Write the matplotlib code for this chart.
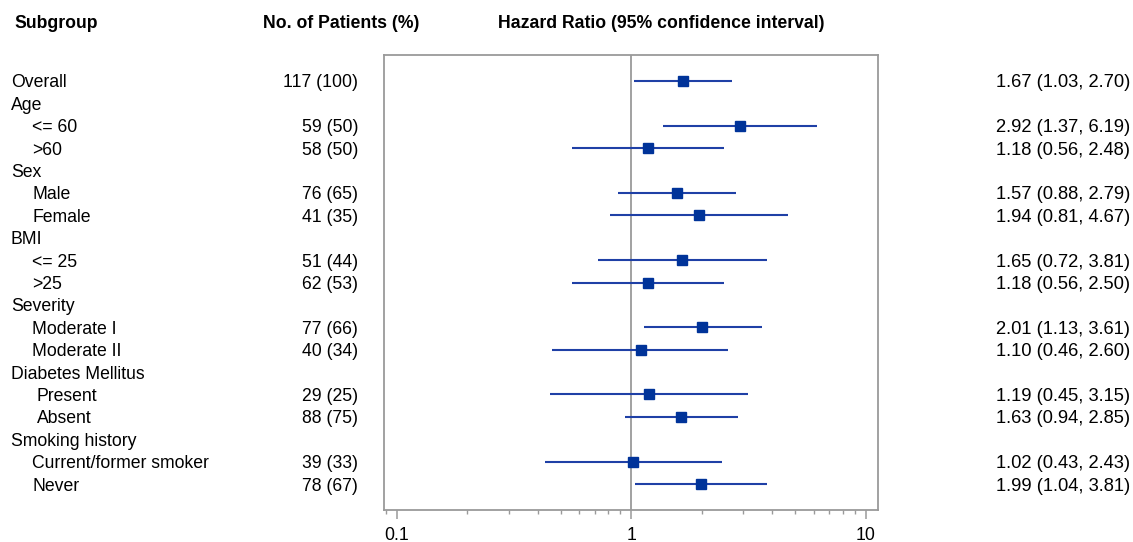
import matplotlib
matplotlib.use("Agg")
import matplotlib.pyplot as plt
from matplotlib.transforms import blended_transform_factory
from matplotlib.ticker import LogLocator, NullFormatter, FixedLocator, FixedFormatter

plt.rcParams['font.family'] = ['Liberation Sans', 'DejaVu Sans']

# ---- data ----
labels = ["Overall", "Age", "<= 60", ">60", "Sex", "Male", "Female", "BMI",
          "<= 25", ">25", "Severity", "Moderate I", "Moderate II",
          "Diabetes Mellitus", "Present", "Absent", "Smoking history",
          "Current/former smoker", "Never"]
levels = [0, 0, 1, 1, 0, 1, 1, 0, 1, 1, 0, 1, 1, 0, 2, 2, 0, 1, 1]
patients = ["117 (100)", "", "59 (50)", "58 (50)", "", "76 (65)", "41 (35)", "",
            "51 (44)", "62 (53)", "", "77 (66)", "40 (34)", "",
            "29 (25)", "88 (75)", "", "39 (33)", "78 (67)"]
hr = [1.67, None, 2.92, 1.18, None, 1.57, 1.94, None, 1.65, 1.18, None,
      2.01, 1.10, None, 1.19, 1.63, None, 1.02, 1.99]
ci_low = [1.03, None, 1.37, 0.56, None, 0.88, 0.81, None, 0.72, 0.56, None,
          1.13, 0.46, None, 0.45, 0.94, None, 0.43, 1.04]
ci_high = [2.70, None, 6.19, 2.48, None, 2.79, 4.67, None, 3.81, 2.50, None,
           3.61, 2.60, None, 3.15, 2.85, None, 2.43, 3.81]
xticks = [0.1, 1, 10]
xtick_labels = ["0.1", "1", "10"]
headers = ["Subgroup", "No. of Patients (%)", "Hazard Ratio (95% confidence interval)"]

W, H = 1133, 542
fig = plt.figure(figsize=(W / 100, H / 100), dpi=100)
ax = fig.add_axes([384 / W, 1 - 510 / H, (878 - 384) / W, (510 - 55) / H])

n = len(labels)
ax.set_xscale('log')
ax.set_xlim(0.0883, 11.3)
ax.set_ylim(n - 1 + 1.16, -1.16)

line_col = '#1f40a6'
mark_col = '#003399'
ax.axvline(1, color='#9a9a9a', lw=1.3, zorder=1)
for i in range(n):
    if hr[i] is None:
        continue
    ax.plot([ci_low[i], ci_high[i]], [i, i], color=line_col, lw=1.5, zorder=2,
            solid_capstyle='butt')
    ax.plot([hr[i]], [i], marker='s', ms=7.5, color=mark_col, mec=mark_col,
            zorder=3, ls='none')

for s in ax.spines.values():
    s.set_color('#9a9a9a')
    s.set_linewidth(1.3)
ax.set_yticks([])
ax.xaxis.set_major_locator(FixedLocator(xticks))
ax.xaxis.set_major_formatter(FixedFormatter(xtick_labels))
ax.xaxis.set_minor_locator(LogLocator(base=10, subs=range(2, 10)))
ax.xaxis.set_minor_formatter(NullFormatter())
ax.tick_params(axis='x', which='major', length=6.5, width=1.1, color='#9a9a9a',
               labelsize=12.8, pad=5.5, labelcolor='black')
ax.tick_params(axis='x', which='minor', length=3, width=1.0, color='#9a9a9a')

tr = blended_transform_factory(fig.transFigure, ax.transData)
indent_px = {0: 11, 1: 32, 2: 37}
fs = 12.7
for i in range(n):
    fig.text(indent_px[levels[i]] / W, i, labels[i], transform=tr, fontsize=fs,
             va='center_baseline', ha='left')
    if patients[i]:
        fig.text(358 / W, i, patients[i], transform=tr, fontsize=fs,
                 va='center_baseline', ha='right')
    if hr[i] is not None:
        txt = f"{hr[i]:.2f} ({ci_low[i]:.2f}, {ci_high[i]:.2f})"
        fig.text(1130 / W, i, txt, transform=tr, fontsize=13.2,
                 va='center_baseline', ha='right')

hy = 1 - 23 / H
hfs = 12.7
fig.text(14 / W, hy, headers[0], fontsize=hfs, fontweight='bold', va='center', ha='left')
fig.text(341 / W, hy, headers[1], fontsize=hfs, fontweight='bold', va='center', ha='center')
fig.text(661 / W, hy, headers[2], fontsize=hfs, fontweight='bold', va='center', ha='center')

fig.savefig("out.png", dpi=100)
